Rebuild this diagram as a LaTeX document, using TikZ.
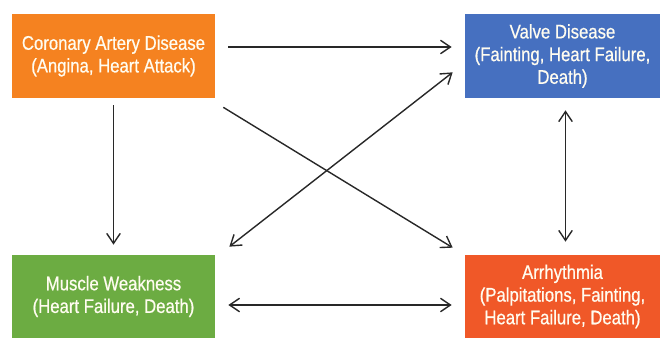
\documentclass[tikz,border=0pt]{standalone}
\usepackage{fontspec}
\setmainfont{Liberation Sans}[FakeStretch=0.85,FakeBold=0.6]
\usetikzlibrary{arrows.meta,calc}
\definecolor{cadorange}{RGB}{245,130,32}
\definecolor{valveblue}{RGB}{70,112,192}
\definecolor{musclegreen}{RGB}{108,172,66}
\definecolor{arrhred}{RGB}{240,88,40}
\definecolor{linegrey}{RGB}{40,40,40}
\definecolor{boxtext}{RGB}{255,252,240}

\tikzset{
  box/.style={draw=none, text=boxtext, align=center, inner sep=0pt,
    minimum height=1.68cm, font=\fontsize{11.2}{12.9}\selectfont},
  barb/.tip={Straight Barb[length=0.2cm,width=0.27cm]},
  link/.style={-barb, line width=0.8pt, draw=linegrey},
  twoway/.style={link, barb-barb}
}

\begin{document}
\begin{tikzpicture}[x=0.02cm, y=-0.02cm]
        \useasboundingbox (0,0) rectangle (662,338);

        % Boxes
        \node[box, fill=cadorange, minimum width=4.06cm] (cad) at (113.5,56)
          {Coronary Artery Disease\\(Angina, Heart Attack)};
        \node[box, fill=valveblue, minimum width=3.9cm] (valve) at (562.5,56)
          {Valve Disease\\(Fainting, Heart Failure,\\Death)};
        \node[box, fill=musclegreen, minimum width=4.06cm, minimum height=1.66cm] (muscle) at (113.5,296.5)
          {Muscle Weakness\\(Heart Failure, Death)};
        \node[box, fill=arrhred, minimum width=3.9cm, minimum height=1.66cm] (arrh) at (562.5,296.5)
          {Arrhythmia\\(Palpitations, Fainting,\\Heart Failure, Death)};

        % Links
        \draw[link] ($(cad.east)+(13,-9)$) -- ($(valve.west)+(-13,-9)$);
        \draw[link] ($(cad.south)+(0,7)$) -- ($(muscle.north)+(0,-10)$);
        \draw[link] ($(cad.south east)+(8,9)$) -- ($(arrh.north west)+(-12,-7)$);
        \draw[twoway] ($(muscle.north east)+(14,-8)$) -- ($(valve.south west)+(-12,-26)$);
        \draw[twoway] ($(valve.south)+(3,12)$) -- ($(arrh.north)+(3,-13)$);
        \draw[twoway] ($(muscle.east)+(13,8.5)$) -- ($(arrh.west)+(-13,8.5)$);
      \end{tikzpicture}
\end{document}
